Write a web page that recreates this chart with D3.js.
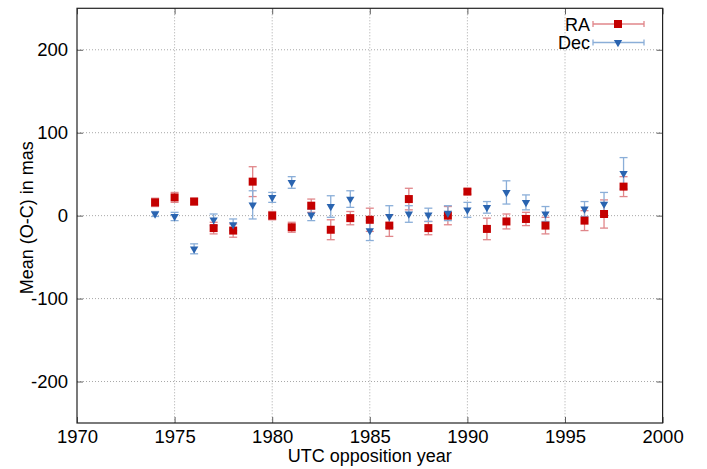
<!DOCTYPE html>
<html><head><meta charset="utf-8">
<script src="https://cdn.jsdelivr.net/npm/d3@7"></script>
<style>body{margin:0;background:#fff}svg{display:block}text{font-family:"Liberation Sans",Arial,sans-serif}</style>
</head><body>
<script>
const years   = [1974,1975,1976,1977,1978,1979,1980,1981,1982,1983,1984,1985,1986,1987,1988,1989,1990,1991,1992,1993,1994,1996,1997,1998];
const raVal   = [16,22,17,-15,-18,41,0,-14,12,-17,-3,-5,-12,20,-15,0,29,-16,-7,-4,-12,-6,2,35];
const raErr   = [5,6,4,7,8,18,5,6,8,12,8,14,13,13,8,11,3,13,9,8,10,12,17,12];
const decVal  = [2,-1,-40,-5,-11,13,22,40,1,11,20,-18,-1,2,1,3,7,10,28,16,2,8,14,51];
const decErr  = [3,5,6,7,7,17,6,7,7,13,10,12,13,10,8,9,9,7,14,9,9,9,14,19];
const xTicks  = [1970,1975,1980,1985,1990,1995,2000];
const yTicks  = [-200,-100,0,100,200];

const W=707,H=469, L=77, R=662.6, T=8.3, B=423;
const svg=d3.select("body").append("svg").attr("width",W).attr("height",H);
const x=d3.scaleLinear().domain([1970,2000]).range([L,R]);
const y=d3.scaleLinear().domain([-250,250]).range([B,T]);

// grid
const g=svg.append("g");
g.selectAll(".gx").data(xTicks.slice(1,-1)).join("line").attr("x1",d=>x(d)).attr("x2",d=>x(d)).attr("y1",T).attr("y2",B)
 .attr("stroke","#a8a8a8").attr("stroke-width",1).attr("stroke-dasharray","1,2");
g.selectAll(".gy").data(yTicks).join("line").attr("y1",d=>y(d)).attr("y2",d=>y(d)).attr("x1",L).attr("x2",R)
 .attr("stroke","#a8a8a8").attr("stroke-width",1).attr("stroke-dasharray","1,2");

// axes
const fs=18.5;
const fmt=d=>String(d);
const ax=svg.append("g").attr("transform",`translate(0,${B})`).call(d3.axisBottom(x).tickValues(xTicks).tickFormat(fmt).tickSizeInner(-6).tickSizeOuter(0).tickPadding(6));
const ay=svg.append("g").attr("transform",`translate(${L},0)`).call(d3.axisLeft(y).tickValues(yTicks).tickFormat(fmt).tickSizeInner(-6).tickSizeOuter(0).tickPadding(9));
const axT=svg.append("g").attr("transform",`translate(0,${T})`).call(d3.axisTop(x).tickValues(xTicks).tickFormat("").tickSizeInner(-6).tickSizeOuter(0));
const ayR=svg.append("g").attr("transform",`translate(${R},0)`).call(d3.axisRight(y).tickValues(yTicks).tickFormat("").tickSizeInner(-6).tickSizeOuter(0));
[ax,ay,axT,ayR].forEach(a=>{a.select(".domain").remove();a.selectAll("line").attr("stroke","#606060");a.selectAll("text").attr("font-size",fs).attr("fill","#000").attr("font-family","Liberation Sans, Arial, sans-serif");});
ax.selectAll("text").attr("dy",null).attr("y",20);
svg.append("rect").attr("x",L).attr("y",T).attr("width",R-L).attr("height",B-T).attr("fill","none").attr("stroke","#222").attr("stroke-width",1.2);

// labels
svg.append("text").attr("x",(L+R)/2).attr("y",462).attr("text-anchor","middle").attr("font-size",18).text("UTC opposition year");
svg.append("text").attr("transform",`translate(33,${(T+B)/2+2}) rotate(-90)`).attr("text-anchor","middle").attr("font-size",18).text("Mean (O-C) in mas");

const redC="#c40000", redE="#e0868a", blueC="#2a64b0", blueE="#8aaed8";
const cap=4;
function errbars(vals,errs,col){
  const gg=svg.append("g").attr("stroke",col).attr("stroke-width",1.3).attr("fill","none");
  years.forEach((yr,i)=>{
    const cx=x(yr), y1=y(vals[i]+errs[i]), y2=y(vals[i]-errs[i]);
    gg.append("line").attr("x1",cx).attr("x2",cx).attr("y1",y1).attr("y2",y2);
    gg.append("line").attr("x1",cx-cap).attr("x2",cx+cap).attr("y1",y1).attr("y2",y1);
    gg.append("line").attr("x1",cx-cap).attr("x2",cx+cap).attr("y1",y2).attr("y2",y2);
  });
}
errbars(raVal,raErr,redE);
errbars(decVal,decErr,blueE);
const sq=d3.symbol().type(d3.symbolSquare).size(64);
const tri=d3.symbol().type(d3.symbolTriangle).size(30);
svg.append("g").selectAll("path").data(years).join("path").attr("d",sq)
 .attr("transform",(d,i)=>`translate(${x(d)},${y(raVal[i])})`).attr("fill",redC);
svg.append("g").selectAll("path").data(years).join("path").attr("d",tri)
 .attr("transform",(d,i)=>`translate(${x(d)},${y(decVal[i])}) rotate(180)`).attr("fill",blueC);

// legend
const leg=[{n:"RA",c:redC,e:redE,s:sq,ty:24},{n:"Dec",c:blueC,e:blueE,s:tri,ty:42.5}];
leg.forEach(l=>{
  const lg=svg.append("g");
  lg.append("text").attr("x",590).attr("y",l.ty+6.5).attr("text-anchor","end").attr("font-size",18).text(l.n);
  lg.append("line").attr("x1",593).attr("x2",644).attr("y1",l.ty).attr("y2",l.ty).attr("stroke",l.e).attr("stroke-width",1.3);
  [593,644].forEach(xx=>lg.append("line").attr("x1",xx).attr("x2",xx).attr("y1",l.ty-3).attr("y2",l.ty+3).attr("stroke",l.e).attr("stroke-width",1.3));
  lg.append("path").attr("d",l.s).attr("transform",`translate(618,${l.ty})`+(l.n==="Dec"?" rotate(180)":"")).attr("fill",l.c);
});
</script>
</body></html>
